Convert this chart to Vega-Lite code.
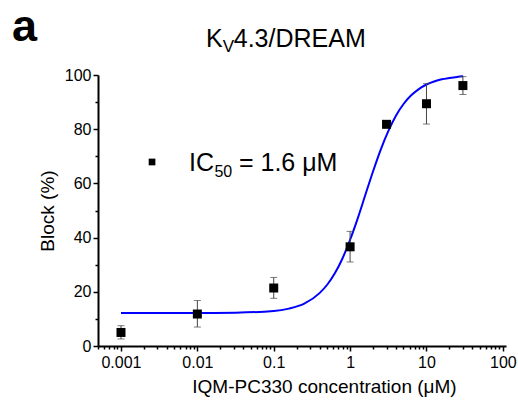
{
  "$schema": "https://vega.github.io/schema/vega-lite/v6.json",
  "width": 408,
  "height": 271,
  "autosize": {"type": "none"},
  "padding": {"left": 98, "top": 75, "right": 12, "bottom": 60},
  "background": "white",
  "config": {
    "font": "Liberation Sans",
    "view": {"stroke": null},
    "axis": {"grid": false, "labelFont": "Liberation Sans", "titleFont": "Liberation Sans", "labelColor": "black", "titleColor": "black", "domainColor": "black", "tickColor": "black", "titleFontWeight": "normal"}
  },
  "datasets": {
    "points": [
      {"conc": 0.001, "block": 5.0, "lo": 2.6, "hi": 7.5},
      {"conc": 0.01, "block": 11.8, "lo": 7.0, "hi": 16.8},
      {"conc": 0.1, "block": 21.4, "lo": 17.6, "hi": 25.3},
      {"conc": 1, "block": 36.6, "lo": 31.0, "hi": 42.3},
      {"conc": 3, "block": 81.8, "lo": 81.8, "hi": 81.8},
      {"conc": 10, "block": 89.4, "lo": 81.9, "hi": 96.8},
      {"conc": 30, "block": 96.1, "lo": 92.8, "hi": 99.4}
    ],
    "curve": [
      {"conc": 0.001, "fit": 12.2},
      {"conc": 0.01, "fit": 12.2},
      {"conc": 0.0316, "fit": 12.3},
      {"conc": 0.1, "fit": 12.9},
      {"conc": 0.158, "fit": 13.8},
      {"conc": 0.251, "fit": 15.6},
      {"conc": 0.398, "fit": 19.5},
      {"conc": 0.501, "fit": 22.6},
      {"conc": 0.631, "fit": 26.8},
      {"conc": 0.794, "fit": 32.3},
      {"conc": 1.0, "fit": 39.2},
      {"conc": 1.259, "fit": 47.1},
      {"conc": 1.585, "fit": 55.8},
      {"conc": 1.995, "fit": 64.4},
      {"conc": 2.512, "fit": 72.4},
      {"conc": 3.162, "fit": 79.3},
      {"conc": 3.981, "fit": 85.0},
      {"conc": 5.012, "fit": 89.3},
      {"conc": 6.31, "fit": 92.5},
      {"conc": 7.943, "fit": 94.8},
      {"conc": 10.0, "fit": 96.5},
      {"conc": 12.59, "fit": 97.6},
      {"conc": 15.85, "fit": 98.4},
      {"conc": 19.95, "fit": 98.9},
      {"conc": 25.12, "fit": 99.3},
      {"conc": 30.2, "fit": 99.5}
    ],
    "one": [{}]
  },
  "resolve": {"axis": {"x": "independent", "y": "independent"}},
  "layer": [
    {
      "data": {"name": "curve"},
      "mark": {"type": "line", "color": "#0000ff", "strokeWidth": 2, "interpolate": "monotone"},
      "encoding": {
        "x": {"field": "conc", "type": "quantitative",
              "scale": {"type": "log", "domain": [0.0005, 110], "nice": false},
              "axis": {"orient": "bottom", "values": [0.001, 0.01, 0.1, 1, 10, 100], "format": "~g", "tickSize": 5, "tickWidth": 1.5, "domainWidth": 2, "labelFontSize": 16, "labelPadding": 3, "title": "IQM-PC330 concentration (μM)", "titleFontSize": 19, "titlePadding": 7, "titleX": 226, "titleAlign": "center"}},
        "y": {"field": "fit", "type": "quantitative",
              "scale": {"domain": [0, 100], "nice": false},
              "axis": {"orient": "left", "values": [0, 20, 40, 60, 80, 100], "tickSize": 5, "tickWidth": 1.5, "domainWidth": 2, "labelFontSize": 16, "labelPadding": 2, "title": "Block (%)", "titleFontSize": 19, "titlePadding": 7}}
      }
    },
    {
      "data": {"name": "points"},
      "mark": {"type": "errorbar", "ticks": {"size": 7, "thickness": 1, "color": "#444444"}, "rule": {"strokeWidth": 1, "color": "#444444"}},
      "encoding": {
        "x": {"field": "conc", "type": "quantitative",
              "scale": {"type": "log", "domain": [0.0005, 110], "nice": false},
              "axis": {"orient": "bottom", "values": [0.0005, 0.0006, 0.0007, 0.0008, 0.0009, 0.002, 0.003, 0.004, 0.005, 0.006, 0.007, 0.008, 0.009, 0.02, 0.03, 0.04, 0.05, 0.06, 0.07, 0.08, 0.09, 0.2, 0.3, 0.4, 0.5, 0.6, 0.7, 0.8, 0.9, 2, 3, 4, 5, 6, 7, 8, 9, 20, 30, 40, 50, 60, 70, 80, 90], "labels": false, "domain": false, "tickSize": 3, "tickWidth": 1.5, "title": null}},
        "y": {"field": "lo", "type": "quantitative",
              "scale": {"domain": [0, 100], "nice": false},
              "axis": {"orient": "left", "values": [10, 30, 50, 70, 90], "labels": false, "domain": false, "tickSize": 3, "tickWidth": 1.5, "title": null}},
        "y2": {"field": "hi"}
      }
    },
    {
      "data": {"name": "points"},
      "mark": {"type": "point", "shape": "square", "filled": true, "color": "black", "size": 81, "opacity": 1},
      "encoding": {
        "x": {"field": "conc", "type": "quantitative", "scale": {"type": "log", "domain": [0.0005, 110], "nice": false}, "axis": null},
        "y": {"field": "block", "type": "quantitative", "scale": {"domain": [0, 100], "nice": false}, "axis": null}
      }
    },
    {
      "data": {"name": "one"},
      "mark": {"type": "point", "shape": "square", "filled": true, "color": "black", "size": 45, "opacity": 1},
      "encoding": {
        "x": {"datum": 0.00255, "type": "quantitative", "axis": null},
        "y": {"datum": 67.9, "type": "quantitative", "axis": null}
      }
    },
    {
      "data": {"name": "one"},
      "mark": {"type": "text", "text": "IC", "align": "left", "baseline": "alphabetic", "fontSize": 25, "color": "black"},
      "encoding": {
        "x": {"datum": 0.00776, "type": "quantitative", "axis": null},
        "y": {"datum": 64.6, "type": "quantitative", "axis": null}
      }
    },
    {
      "data": {"name": "one"},
      "mark": {"type": "text", "text": "50", "align": "left", "baseline": "alphabetic", "fontSize": 16, "dx": 25.5, "dy": 6, "color": "black"},
      "encoding": {
        "x": {"datum": 0.00776, "type": "quantitative", "axis": null},
        "y": {"datum": 64.6, "type": "quantitative", "axis": null}
      }
    },
    {
      "data": {"name": "one"},
      "mark": {"type": "text", "text": "= 1.6 μM", "align": "left", "baseline": "alphabetic", "fontSize": 25, "dx": 50, "color": "black"},
      "encoding": {
        "x": {"datum": 0.00776, "type": "quantitative", "axis": null},
        "y": {"datum": 64.6, "type": "quantitative", "axis": null}
      }
    },
    {
      "data": {"name": "one"},
      "mark": {"type": "text", "text": "K", "align": "right", "baseline": "alphabetic", "fontSize": 25, "color": "black"},
      "encoding": {
        "x": {"datum": 0.0215, "type": "quantitative", "axis": null},
        "y": {"datum": 110.4, "type": "quantitative", "axis": null}
      }
    },
    {
      "data": {"name": "one"},
      "mark": {"type": "text", "text": "V", "align": "left", "baseline": "alphabetic", "fontSize": 17, "dy": 5, "color": "black"},
      "encoding": {
        "x": {"datum": 0.0215, "type": "quantitative", "axis": null},
        "y": {"datum": 110.4, "type": "quantitative", "axis": null}
      }
    },
    {
      "data": {"name": "one"},
      "mark": {"type": "text", "text": "4.3/DREAM", "align": "left", "baseline": "alphabetic", "fontSize": 25, "dx": 11, "color": "black"},
      "encoding": {
        "x": {"datum": 0.0215, "type": "quantitative", "axis": null},
        "y": {"datum": 110.4, "type": "quantitative", "axis": null}
      }
    },
    {
      "data": {"name": "one"},
      "mark": {"type": "text", "text": "a", "align": "left", "baseline": "alphabetic", "fontSize": 45, "font": "Liberation Sans", "fontWeight": "bold", "color": "black"},
      "encoding": {
        "x": {"datum": 0.0000374, "type": "quantitative", "axis": null},
        "y": {"datum": 112.5, "type": "quantitative", "axis": null}
      }
    }
  ]
}
